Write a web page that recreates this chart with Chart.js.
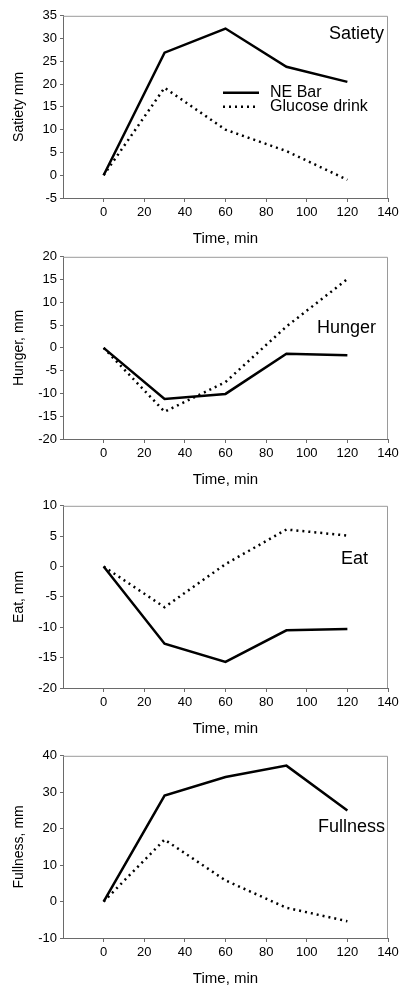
<!DOCTYPE html>
<html>
<head>
<meta charset="utf-8">
<script src="https://cdn.jsdelivr.net/npm/chart.js@4.4.1/dist/chart.umd.min.js"></script>
<style>
  html, body { margin: 0; padding: 0; background: #fff; overflow: hidden; }
  #wrap { position: relative; width: 403px; height: 987px; }
  canvas { position: absolute; left: 0; }
</style>
</head>
<body>
<div id="wrap">
  <canvas id="c1" width="403" height="243" style="top:5px"></canvas>
  <canvas id="c2" width="403" height="243" style="top:246px"></canvas>
  <canvas id="c3" width="403" height="243" style="top:495px"></canvas>
  <canvas id="c4" width="403" height="243" style="top:745px"></canvas>
</div>
<script>
let times = [0, 30, 60, 90, 120];
let xTicks = [0, 20, 40, 60, 80, 100, 120, 140];
let seriesNames = ["NE Bar", "Glucose drink"];

let satietyNE = [0, 26.9, 32.2, 23.8, 20.5];
let satietyGlucose = [0, 19.2, 10.0, 5.3, -1.0];
let hungerNE = [0, -11.2, -10.1, -1.3, -1.6];
let hungerGlucose = [0, -14.0, -7.5, 4.7, 15.1];
let eatNE = [0, -12.7, -15.7, -10.5, -10.3];
let eatGlucose = [0, -6.7, 0.4, 6.1, 5.1];
let fullnessNE = [0, 29.1, 34.2, 37.3, 25.0];
let fullnessGlucose = [0, 17.0, 5.8, -1.7, -5.4];

const FONT = "'Liberation Sans', Arial, sans-serif";
const AXIS = "#6a6a6a";

function pts(vals) {
    return times.map((t, i) => ({ x: t, y: vals[i] }));
}

// frame on top/right, panel name, optional legend
const decorations = {
    id: "decorations",
    afterDraw(chart, args, o) {
        const ctx = chart.ctx;
        const a = chart.chartArea;
        ctx.save();
        ctx.strokeStyle = "#9a9a9a";
        ctx.lineWidth = 1;
        ctx.beginPath();
        ctx.moveTo(a.left, a.top + 0.5);
        ctx.lineTo(a.right - 0.5, a.top + 0.5);
        ctx.lineTo(a.right - 0.5, a.bottom);
        ctx.stroke();

        ctx.fillStyle = "#000";
        ctx.font = "18px " + FONT;
        ctx.textAlign = "right";
        ctx.textBaseline = "middle";
        ctx.fillText(o.label, a.right - o.labelDx, a.top + o.labelDy);

        if (o.legend) {
            ctx.font = "16px " + FONT;
            ctx.textAlign = "left";
            ctx.strokeStyle = "#000";
            ctx.lineWidth = 2.5;
            const rows = [92 - 15, 106 - 15];
            rows.forEach((dy, i) => {
                const y = a.top + dy;
                ctx.setLineDash(i === 0 ? [] : [2, 4]);
                ctx.beginPath();
                ctx.moveTo(223, y);
                ctx.lineTo(259, y);
                ctx.stroke();
                ctx.fillText(seriesNames[i], 270, y);
            });
            ctx.setLineDash([]);
        }
        ctx.restore();
    }
};

function makePanel(id, neVals, glucoseVals, yTitle, yMin, yMax, yStep, deco) {
    new Chart(id, {
        type: "line",
        data: {
            datasets: [{
                label: seriesNames[0],
                data: pts(neVals),
                borderColor: "#000",
                borderWidth: 2.5,
                pointRadius: 0,
                tension: 0
            }, {
                label: seriesNames[1],
                data: pts(glucoseVals),
                borderColor: "#000",
                borderWidth: 2.5,
                borderDash: [2, 4],
                pointRadius: 0,
                tension: 0
            }]
        },
        options: {
            responsive: false,
            animation: false,
            layout: { padding: { top: 10, right: 15, left: 0, bottom: 0 } },
            plugins: {
                legend: { display: false },
                tooltip: { enabled: false },
                decorations: deco
            },
            scales: {
                x: {
                    type: "linear",
                    min: -20,
                    max: 140,
                    afterBuildTicks: (s) => { s.ticks = xTicks.map(v => ({ value: v })); },
                    afterFit: (s) => { s.height = 50; },
                    grid: { drawOnChartArea: false, tickLength: 4, color: AXIS },
                    border: { color: AXIS, width: 1 },
                    ticks: { color: "#000", font: { family: FONT, size: 13 }, padding: 3, maxRotation: 0 },
                    title: { display: true, text: "Time, min", color: "#000", font: { family: FONT, size: 15 }, padding: { top: 0, bottom: 0 } }
                },
                y: {
                    min: yMin,
                    max: yMax,
                    ticks: { stepSize: yStep, color: "#000", font: { family: FONT, size: 13 }, padding: 3 },
                    afterFit: (s) => { s.width = 63; },
                    grid: { drawOnChartArea: false, tickLength: 3, color: AXIS },
                    border: { color: AXIS, width: 1 },
                    title: { display: true, text: yTitle, color: "#000", font: { family: FONT, size: 14 }, padding: { top: 11, bottom: 0 } }
                }
            }
        },
        plugins: [decorations]
    });
}

makePanel("c1", satietyNE, satietyGlucose, "Satiety mm", -5, 35, 5,
    { label: "Satiety", labelDx: 4, labelDy: 18, legend: true });
makePanel("c2", hungerNE, hungerGlucose, "Hunger, mm", -20, 20, 5,
    { label: "Hunger", labelDx: 12, labelDy: 71, legend: false });
makePanel("c3", eatNE, eatGlucose, "Eat, mm", -20, 10, 5,
    { label: "Eat", labelDx: 20, labelDy: 53, legend: false });
makePanel("c4", fullnessNE, fullnessGlucose, "Fullness, mm", -10, 40, 10,
    { label: "Fullness", labelDx: 3, labelDy: 71, legend: false });
</script>
</body>
</html>
